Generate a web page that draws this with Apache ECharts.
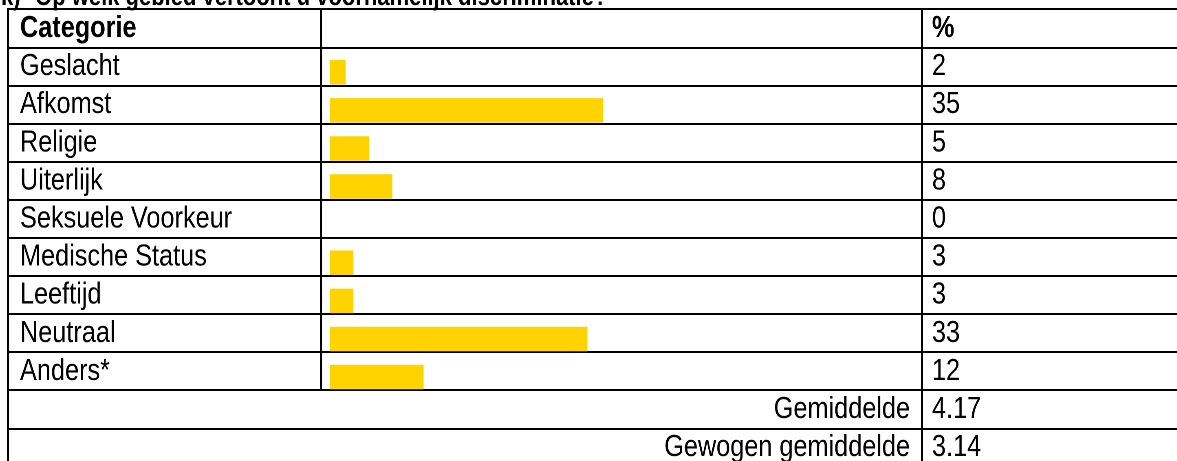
<!DOCTYPE html>
<html>
<head>
<meta charset="utf-8">
<script src="https://cdn.jsdelivr.net/npm/echarts@6/dist/echarts.min.js"></script>
<style>
  html, body { margin: 0; padding: 0; background: #ffffff; overflow: hidden; }
  #wrap { width: 1177px; height: 461px; overflow: hidden; }
  /* the chart is laid out wide and squeezed horizontally, giving a narrow typeface */
  #chart { height: 461px; transform-origin: 0 0; }
</style>
</head>
<body>
<div id="wrap"><div id="chart"></div></div>
<script>
// Survey answers: share of respondents per area of discrimination (%)
const categories = ['Geslacht', 'Afkomst', 'Religie', 'Uiterlijk', 'Seksuele Voorkeur',
                    'Medische Status', 'Leeftijd', 'Neutraal', 'Anders*'];
const percentages = [2, 35, 5, 8, 0, 3, 3, 33, 12];
const summaryLabels = ['Gemiddelde', 'Gewogen gemiddelde'];
const summaryValues = ['4.17', '3.14'];
const headerLabels = ['Categorie', '%'];
const titleParts = ['k)', 'Op welk gebied vertoont u voornamelijk discriminatie?'];

// Horizontal squeeze factor and helpers (screen px -> chart units)
const S = 0.815;
const X = v => v / S;
const W = 1177;
const el = document.getElementById('chart');
el.style.width = X(W) + 'px';
el.style.transform = `scaleX(${S})`;

// Table layout (screen px)
const FONT = "'Liberation Sans', Arial, sans-serif";
const FS = 31;
const FS_TITLE = 27;
const ROW0 = 9.4;        // top border of the header row
const ROWH = 38.1;       // row pitch
const X_LEFT = 8;        // outer left border
const X_COL1 = 321;      // border between category and bar columns
const X_COL2 = 922;      // border between bar and value columns
const TEXT_X = 20;
const VALUE_X = 932;
const BAR_X = 330;
const PX_PER_UNIT = 7.8;

const nData = categories.length;
const dataTop = ROW0 + ROWH;
const dataHeight = nData * ROWH;
const rowLine = k => Math.round(ROW0 + k * ROWH);

const graphics = [];
const hline = (x1, x2, y) => graphics.push({
  type: 'line', silent: true,
  shape: { x1: X(x1), y1: y, x2: X(x2), y2: y },
  style: { stroke: '#000', lineWidth: 2 }
});
const vline = (x, y1, y2) => graphics.push({
  type: 'line', silent: true,
  shape: { x1: X(x), y1, x2: X(x), y2 },
  style: { stroke: '#000', lineWidth: 2 / S }
});
// horizontal rules: header, data rows and summary rows
const totalRows = 1 + nData + summaryLabels.length;
for (let k = 0; k <= totalRows; k++) hline(X_LEFT - 1, W, rowLine(k));
// vertical rules
vline(X_LEFT, rowLine(0) - 1, 470);
vline(X_COL1, rowLine(0) - 1, rowLine(1 + nData) + 1);
vline(X_COL2, rowLine(0) - 1, 470);

const text = (str, x, yMid, opts) => graphics.push({
  type: 'text', silent: true, x: X(x), y: yMid,
  style: Object.assign({
    text: str, font: `${FS}px ${FONT}`, fill: '#000',
    textVerticalAlign: 'middle'
  }, opts || {})
});
const bold = `bold ${FS}px ${FONT}`;
const titleFont = `bold ${FS_TITLE}px ${FONT}`;
// title (partly above the top edge)
text(titleParts[0], 1, -2.5, { font: titleFont });
text(titleParts[1], 35, -2.5, { font: titleFont });
// header row
const headMid = ROW0 + ROWH / 2;
text(headerLabels[0], TEXT_X, headMid, { font: bold });
text(headerLabels[1], VALUE_X, headMid, { font: bold });
// summary rows
summaryLabels.forEach((lab, i) => {
  const mid = ROW0 + (1 + nData + i) * ROWH + ROWH / 2;
  text(lab, 910, mid, { textAlign: 'right' });
  text(summaryValues[i], VALUE_X, mid);
});

const labelStyle = { fontFamily: FONT, fontSize: FS, color: '#000', interval: 0 };

const option = {
  backgroundColor: '#ffffff',
  animation: false,
  grid: [
    // grid 0 carries the category and value columns
    { left: X(X_COL1), top: dataTop, width: X(X_COL2 - X_COL1), height: dataHeight },
    // grid 1 carries the bars, sitting low in each row
    { left: X(BAR_X), top: dataTop + 5.7, width: X(PX_PER_UNIT * 100), height: dataHeight }
  ],
  xAxis: [
    { gridIndex: 0, type: 'value', show: false, min: 0, max: 100 },
    { gridIndex: 1, type: 'value', show: false, min: 0, max: 100 }
  ],
  yAxis: [
    {
      gridIndex: 0, type: 'category', data: categories, inverse: true,
      axisLine: { show: false }, axisTick: { show: false }, splitLine: { show: false },
      axisLabel: Object.assign({ align: 'left', margin: X(X_COL1 - TEXT_X) }, labelStyle)
    },
    {
      gridIndex: 0, type: 'category', position: 'right', inverse: true,
      data: percentages.map(String),
      axisLine: { show: false }, axisTick: { show: false }, splitLine: { show: false },
      axisLabel: Object.assign({ align: 'left', margin: X(VALUE_X - X_COL2) }, labelStyle)
    },
    {
      gridIndex: 1, type: 'category', data: categories, inverse: true, show: false
    }
  ],
  series: [{
    type: 'bar',
    xAxisIndex: 1, yAxisIndex: 2,
    data: percentages,
    barWidth: 24.5,
    itemStyle: { color: '#FED300' },
    silent: true
  }],
  graphic: graphics
};

const chart = echarts.init(el, null, { renderer: 'canvas', devicePixelRatio: 2 });
chart.setOption(option);
</script>
</body>
</html>
